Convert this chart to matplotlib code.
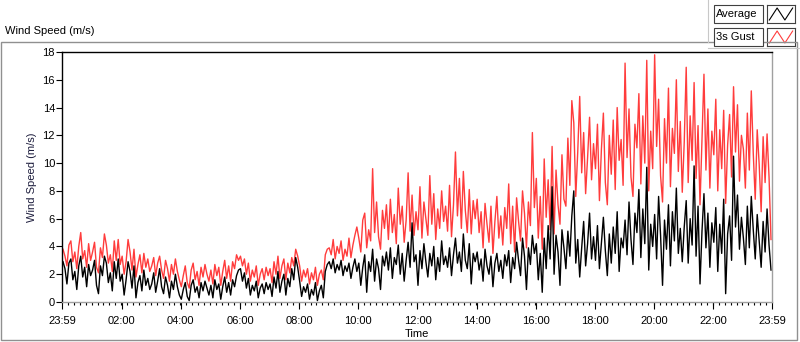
import numpy as np
import matplotlib
matplotlib.use('Agg')
import matplotlib.pyplot as plt
from matplotlib.patches import Rectangle
from matplotlib.lines import Line2D

plt.rcParams['font.family'] = ['Liberation Sans', 'DejaVu Sans']

# 4-minute samples starting at 23:59 (15 values per hour)
average = [
    2.9, 2.4, 1.3, 2.8, 3.1, 1.6, 2.2, 0.9, 2.6, 3.3, 1.8, 2.5, 1.1, 2.7, 1.9,
    2.3, 3.0, 1.2, 0.6, 2.6, 1.9, 3.3, 2.8, 1.4, 2.1, 0.8, 2.9, 1.7, 3.1, 1.5,
    2.0, 0.5, 1.6, 2.9, 2.2, 1.0, 2.6, 0.3, 1.4, 1.9, 0.8, 2.3, 1.2, 1.7, 0.9,
    1.3, 2.1, 0.7, 1.5, 2.4, 1.1, 0.6, 1.8, 1.2, 0.3, 1.5, 0.9, 2.0, 1.1, 0.5,
    0.2, 0.9, 1.4, 0.4, 0.1, 1.2, 1.6, 0.7, 1.1, 0.3, 1.4, 0.8, 1.5, 1.0, 0.5,
    1.2, 0.3, 1.6, 0.9, 1.3, 0.2, 1.1, 1.8, 0.7, 1.4, 0.5, 1.6, 1.1, 1.9, 2.3,
    2.4, 1.5, 2.1, 1.0, 1.7, 0.5, 1.2, 0.8, 1.5, 0.3, 1.0, 1.3, 0.6, 1.4, 0.9,
    1.3, 0.4, 1.8, 1.0, 2.2, 0.7, 1.5, 2.0, 0.5, 1.7, 1.1, 2.4, 1.6, 3.2, 2.5,
    1.5, 0.4, 1.1, 0.7, 1.3, 0.2, 0.9, 0.5, 1.4, 0.1, 0.8, 1.2, 0.3, 2.2, 2.7,
    2.9, 2.4, 3.1, 2.1, 2.7, 2.3, 3.0, 1.9, 2.6, 2.2, 2.8, 1.7, 2.5, 3.1, 2.2,
    2.8, 1.2, 2.5, 3.4, 0.7, 2.9, 2.2, 3.8, 1.5, 3.1, 2.4, 0.9, 3.3, 2.6, 3.6,
    2.3, 3.9, 1.7, 3.2, 2.7, 4.1, 2.0, 3.5, 1.5, 3.0, 4.3, 2.5, 5.7, 2.9, 3.4,
    1.2, 3.7, 2.4, 4.2, 2.9, 1.8, 3.5, 2.6, 4.0, 1.6, 3.2, 2.2, 4.4, 2.7, 3.3,
    2.5, 3.9, 1.9, 3.4, 4.6, 2.8, 3.6, 2.2, 4.9, 3.0, 2.4, 4.2, 1.3, 3.5, 2.9,
    3.6, 2.3, 3.1, 1.5, 3.8, 2.6, 2.0, 3.3, 1.1, 2.8, 3.5, 2.2, 3.0, 1.7, 3.4,
    2.6, 3.7, 1.4, 3.2, 2.4, 4.3, 3.0, 1.9, 4.6, 3.3, 0.9, 3.9, 2.7, 4.8, 3.5,
    4.2, 1.6, 3.5, 0.7, 4.6, 2.4, 5.5, 3.1, 8.3, 2.0, 4.8, 3.6, 1.2, 5.2, 3.9,
    2.4, 5.1, 3.3, 6.2, 8.0, 2.8, 4.5, 1.8, 3.9, 5.8, 2.6, 4.2, 6.4, 3.1, 4.7,
    3.0, 5.5, 2.4, 4.3, 6.1, 3.7, 1.9, 4.9, 2.8, 5.4, 3.5, 6.5, 2.2, 4.6, 3.9,
    5.9, 3.4, 7.2, 4.5, 2.7, 6.4, 5.0, 8.1, 3.2, 6.7, 4.2, 9.7, 2.3, 5.6, 4.0,
    6.3, 3.1, 7.6, 4.8, 1.2, 5.9, 3.8, 7.0, 2.6, 6.5, 4.4, 8.2, 3.5, 5.3, 2.9,
    5.4, 7.3, 2.8, 6.0, 4.1, 9.8, 3.3, 6.9, 1.3, 5.1, 7.8, 3.9, 6.4, 2.5, 5.7,
    4.3, 6.8, 2.2, 5.6, 3.5, 7.4, 0.6, 4.9, 6.2, 3.0, 10.5, 5.4, 7.7, 3.8, 6.1,
    4.6, 2.7, 6.9, 3.9, 7.6, 5.2, 3.1, 6.3, 4.4, 2.5, 5.8, 3.6, 6.7, 4.1, 2.3,
]
gust = [
    3.8, 3.3, 2.6, 4.1, 4.4, 2.9, 3.6, 2.4, 4.0, 5.0, 3.1, 3.7, 2.5, 4.2, 3.0,
    3.6, 4.3, 2.5, 2.1, 3.9, 3.2, 4.9, 4.1, 2.8, 3.4, 2.2, 4.4, 3.0, 4.5, 2.7,
    3.3, 2.0, 2.9, 4.5, 3.6, 2.3, 3.8, 1.8, 2.7, 3.4, 2.1, 3.5, 2.5, 3.1, 2.2,
    2.6, 3.2, 1.9, 2.8, 3.3, 2.3, 1.7, 3.0, 2.4, 1.5, 2.7, 2.0, 3.1, 2.2, 1.6,
    1.1, 1.9, 2.6, 1.4, 1.0, 2.3, 2.8, 1.6, 2.2, 1.2, 2.5, 1.8, 2.7, 2.0, 1.5,
    2.3, 1.3, 2.7, 1.9, 2.5, 1.2, 2.2, 3.0, 1.7, 2.6, 1.5, 2.9, 2.4, 3.4, 3.0,
    3.3, 2.6, 3.1, 2.0, 2.8, 1.5, 2.3, 1.8, 2.6, 1.2, 2.0, 2.4, 1.6, 2.5, 1.9,
    2.4, 1.4, 2.9, 2.0, 3.3, 1.7, 2.6, 3.1, 1.6, 2.8, 2.1, 3.2, 2.6, 3.8, 3.3,
    2.6, 1.5, 2.3, 1.8, 2.4, 1.3, 2.1, 1.6, 2.5, 1.2, 2.0, 2.3, 1.6, 3.4, 3.8,
    3.9, 3.4, 4.5, 3.1, 4.0, 3.5, 4.4, 3.0, 3.8, 3.3, 4.6, 3.2, 4.1, 4.8, 5.4,
    4.6, 3.6, 5.9, 6.4, 3.9, 5.2, 4.4, 9.6, 5.0, 7.2, 4.7, 3.8, 6.6, 5.3, 7.0,
    4.5, 7.4, 5.0, 6.3, 4.2, 8.2, 5.6, 6.9, 4.3, 5.9, 9.3, 5.1, 7.7, 4.8, 6.5,
    5.2, 8.3, 4.6, 7.2, 6.0, 4.8, 9.1, 5.6, 7.8, 4.5, 6.7, 5.3, 8.0, 5.8, 6.9,
    5.1, 8.4, 4.7, 7.0, 10.8, 6.2, 8.9, 5.3, 9.4, 6.6, 5.0, 8.1, 4.9, 7.3, 6.0,
    7.4, 5.0, 6.5, 3.9, 7.1, 5.6, 4.3, 6.9, 3.5, 5.8, 7.6, 4.6, 6.2, 4.1, 6.8,
    5.3, 8.5, 4.2, 6.9, 3.6, 7.5, 5.8, 4.4, 8.0, 6.4, 3.9, 7.2, 5.5, 12.2, 6.8,
    8.9, 4.6, 7.6, 3.8, 10.3, 6.1, 8.8, 5.2, 11.2, 4.9, 9.5, 7.0, 5.6, 10.6, 7.4,
    6.9, 11.8, 8.4, 14.5, 12.9, 7.6, 10.8, 14.8, 9.3, 12.2, 7.8, 10.4, 13.3, 8.8, 11.4,
    9.6, 12.8, 7.3, 11.0, 13.6, 8.6, 7.0, 12.0, 9.2, 13.1, 8.1, 14.0, 10.2, 11.7, 8.4,
    17.2, 10.4, 13.9, 9.0, 7.6, 12.8, 11.1, 15.0, 8.5, 13.4, 10.0, 17.4, 8.0, 12.3, 9.6,
    17.8, 11.2, 14.6, 9.1, 7.2, 13.2, 10.0, 15.4, 8.3, 12.5, 10.7, 16.0, 9.4, 13.0, 7.9,
    11.5, 16.9, 8.6, 13.4, 10.2, 15.8, 8.9, 12.7, 7.0, 11.6, 16.4, 9.5, 13.9, 8.2, 12.3,
    10.6, 14.6, 8.0, 12.4, 9.6, 13.8, 7.1, 11.3, 13.5, 9.0, 15.5, 10.8, 14.2, 8.7, 12.0,
    11.0, 8.2, 13.6, 9.5, 15.2, 10.7, 7.4, 12.4, 9.9, 6.5, 11.9, 8.6, 12.1, 9.0, 4.5,
]
hours = np.arange(len(average)) / 15 + 1 / 30

tick_hours = [0] + [h + 1 / 60 for h in range(2, 24, 2)] + [24]
tick_labels = ['23:59', '02:00', '04:00', '06:00', '08:00', '10:00', '12:00',
               '14:00', '16:00', '18:00', '20:00', '22:00', '23:59']


def fx(x):
    return x / 800


def fy(y):
    return 1 - y / 342


fig = plt.figure(figsize=(8, 3.42), dpi=100)
ax = fig.add_axes([fx(62), fy(302), fx(772) - fx(62), fy(52) - fy(302)])

ax.plot(hours, gust, color='#ff3c3c', lw=1.0)
ax.plot(hours, average, color='black', lw=1.0)

ax.set_xlim(0, 24)
ax.set_ylim(0, 18)
ax.set_yticks(range(0, 19, 2))
ax.set_xticks(tick_hours)
ax.set_xticklabels(tick_labels)
ax.set_xticks(np.arange(0, 24.01, 0.2), minor=True)
ax.tick_params(axis='both', labelsize=8, colors='black', width=0.8)
ax.tick_params(axis='x', which='major', length=5, pad=5)
ax.tick_params(axis='x', which='minor', length=2.5, width=0.8)
ax.tick_params(axis='y', length=4, pad=1)
ax.spines['top'].set_color('black')
ax.spines['left'].set_color('black')
ax.spines['right'].set_color('#a0a0a0')
ax.spines['bottom'].set_color('#a0a0a0')
for s in ax.spines.values():
    s.set_linewidth(1.0)

ax.set_ylabel('Wind Speed (m/s)', fontsize=8, color='#1c1c3c', labelpad=4)
ax.set_xlabel('Time', fontsize=8, labelpad=2)

# outer panel frame and title
fig.add_artist(Rectangle((fx(1), fy(340)), fx(797) - fx(1), fy(42) - fy(340),
                         transform=fig.transFigure, fill=False,
                         edgecolor='#909090', lw=1.0))
fig.text(fx(5), fy(31), 'Wind Speed (m/s)', fontsize=8, va='center', ha='left')

# legend boxes
fig.add_artist(Line2D([fx(708), fx(708)], [fy(0), fy(42)], transform=fig.transFigure,
                      color='#c8c8c8', lw=0.8))
fig.add_artist(Line2D([fx(708), fx(800)], [fy(48), fy(48)], transform=fig.transFigure,
                      color='#c8c8c8', lw=0.8))
legend_names = ['Average', '3s Gust']
legend_colors = ['black', '#ff3c3c']
for i, (name, col) in enumerate(zip(legend_names, legend_colors)):
    top = 5 + i * 23
    fig.add_artist(Rectangle((fx(714), fy(top + 18)), fx(49), fy(0) - fy(18),
                             transform=fig.transFigure, facecolor='white',
                             edgecolor='#404040', lw=0.8))
    fig.text(fx(716), fy(top + 9), name, fontsize=8, va='center', ha='left')
    sw = fig.add_axes([fx(767), fy(top + 18), fx(28), fy(0) - fy(18)])
    sw.plot([0, 1, 2, 3], [0, 1, 0, 1], color=col, lw=0.8)
    sw.set_xlim(-0.3, 3.3)
    sw.set_ylim(-0.25, 1.25)
    sw.set_xticks([])
    sw.set_yticks([])
    for s in sw.spines.values():
        s.set_color('#404040')
        s.set_linewidth(0.8)

fig.savefig('out.png', dpi=100)
